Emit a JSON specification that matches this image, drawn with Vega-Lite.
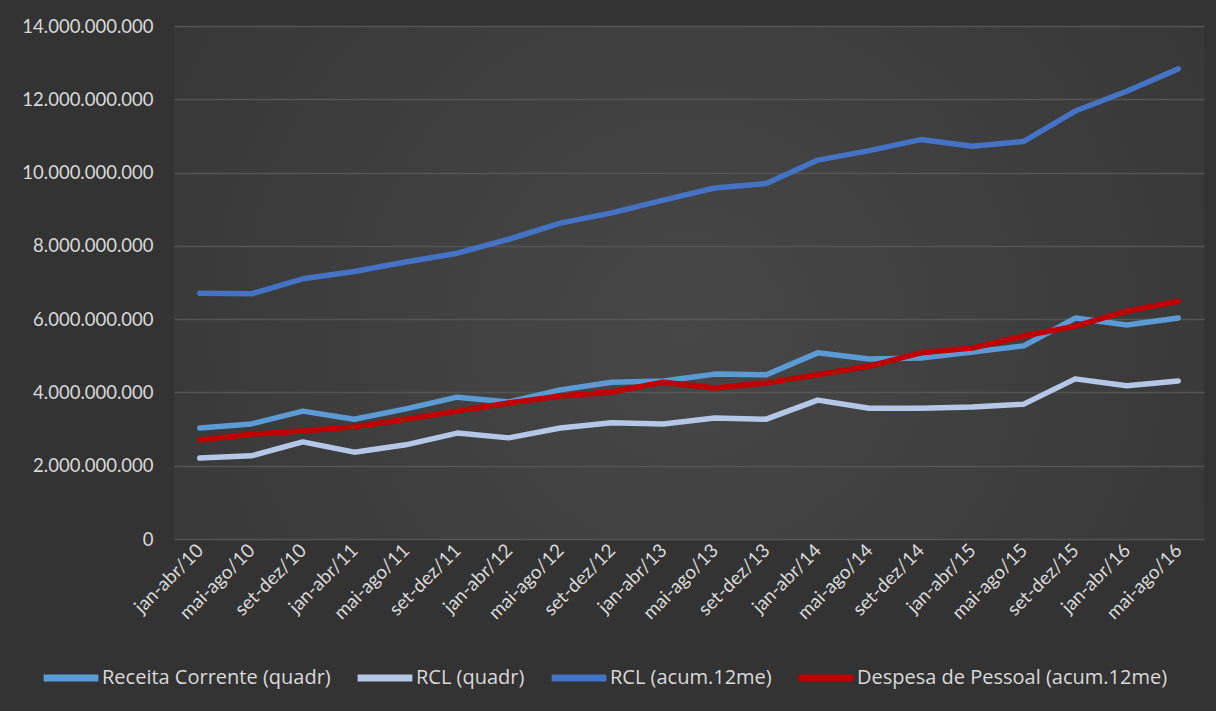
{
  "$schema": "https://vega.github.io/schema/vega-lite/v6.json",
  "width": 1030,
  "height": 513,
  "autosize": {"type": "none"},
  "padding": {"left": 174, "top": 26, "right": 12, "bottom": 172},
  "background": "#333333",
  "config": {
    "view": {
      "stroke": null,
      "fill": {"gradient": "radial", "x1": 0.5, "y1": 0.55, "r1": 0, "x2": 0.5, "y2": 0.55, "r2": 0.75,
        "stops": [{"offset": 0, "color": "#474747"}, {"offset": 1, "color": "#333333"}]}
    },
    "locale": {"number": {"decimal": ",", "thousands": ".", "grouping": [3], "currency": ["R$", ""]}},
    "font": "Lato"
  },
  "data": {
    "values": [
      {"periodo": "jan-abr/10", "serie": "Receita Corrente (quadr)", "valor": 3030000000},
      {"periodo": "mai-ago/10", "serie": "Receita Corrente (quadr)", "valor": 3140000000},
      {"periodo": "set-dez/10", "serie": "Receita Corrente (quadr)", "valor": 3490000000},
      {"periodo": "jan-abr/11", "serie": "Receita Corrente (quadr)", "valor": 3270000000},
      {"periodo": "mai-ago/11", "serie": "Receita Corrente (quadr)", "valor": 3550000000},
      {"periodo": "set-dez/11", "serie": "Receita Corrente (quadr)", "valor": 3870000000},
      {"periodo": "jan-abr/12", "serie": "Receita Corrente (quadr)", "valor": 3740000000},
      {"periodo": "mai-ago/12", "serie": "Receita Corrente (quadr)", "valor": 4070000000},
      {"periodo": "set-dez/12", "serie": "Receita Corrente (quadr)", "valor": 4280000000},
      {"periodo": "jan-abr/13", "serie": "Receita Corrente (quadr)", "valor": 4310000000},
      {"periodo": "mai-ago/13", "serie": "Receita Corrente (quadr)", "valor": 4500000000},
      {"periodo": "set-dez/13", "serie": "Receita Corrente (quadr)", "valor": 4480000000},
      {"periodo": "jan-abr/14", "serie": "Receita Corrente (quadr)", "valor": 5080000000},
      {"periodo": "mai-ago/14", "serie": "Receita Corrente (quadr)", "valor": 4910000000},
      {"periodo": "set-dez/14", "serie": "Receita Corrente (quadr)", "valor": 4940000000},
      {"periodo": "jan-abr/15", "serie": "Receita Corrente (quadr)", "valor": 5100000000},
      {"periodo": "mai-ago/15", "serie": "Receita Corrente (quadr)", "valor": 5270000000},
      {"periodo": "set-dez/15", "serie": "Receita Corrente (quadr)", "valor": 6030000000},
      {"periodo": "jan-abr/16", "serie": "Receita Corrente (quadr)", "valor": 5840000000},
      {"periodo": "mai-ago/16", "serie": "Receita Corrente (quadr)", "valor": 6030000000},
      {"periodo": "jan-abr/10", "serie": "RCL (quadr)", "valor": 2210000000},
      {"periodo": "mai-ago/10", "serie": "RCL (quadr)", "valor": 2270000000},
      {"periodo": "set-dez/10", "serie": "RCL (quadr)", "valor": 2650000000},
      {"periodo": "jan-abr/11", "serie": "RCL (quadr)", "valor": 2370000000},
      {"periodo": "mai-ago/11", "serie": "RCL (quadr)", "valor": 2570000000},
      {"periodo": "set-dez/11", "serie": "RCL (quadr)", "valor": 2890000000},
      {"periodo": "jan-abr/12", "serie": "RCL (quadr)", "valor": 2760000000},
      {"periodo": "mai-ago/12", "serie": "RCL (quadr)", "valor": 3030000000},
      {"periodo": "set-dez/12", "serie": "RCL (quadr)", "valor": 3170000000},
      {"periodo": "jan-abr/13", "serie": "RCL (quadr)", "valor": 3140000000},
      {"periodo": "mai-ago/13", "serie": "RCL (quadr)", "valor": 3300000000},
      {"periodo": "set-dez/13", "serie": "RCL (quadr)", "valor": 3270000000},
      {"periodo": "jan-abr/14", "serie": "RCL (quadr)", "valor": 3790000000},
      {"periodo": "mai-ago/14", "serie": "RCL (quadr)", "valor": 3570000000},
      {"periodo": "set-dez/14", "serie": "RCL (quadr)", "valor": 3570000000},
      {"periodo": "jan-abr/15", "serie": "RCL (quadr)", "valor": 3600000000},
      {"periodo": "mai-ago/15", "serie": "RCL (quadr)", "valor": 3680000000},
      {"periodo": "set-dez/15", "serie": "RCL (quadr)", "valor": 4370000000},
      {"periodo": "jan-abr/16", "serie": "RCL (quadr)", "valor": 4180000000},
      {"periodo": "mai-ago/16", "serie": "RCL (quadr)", "valor": 4310000000},
      {"periodo": "jan-abr/10", "serie": "RCL (acum.12me)", "valor": 6710000000},
      {"periodo": "mai-ago/10", "serie": "RCL (acum.12me)", "valor": 6690000000},
      {"periodo": "set-dez/10", "serie": "RCL (acum.12me)", "valor": 7100000000},
      {"periodo": "jan-abr/11", "serie": "RCL (acum.12me)", "valor": 7300000000},
      {"periodo": "mai-ago/11", "serie": "RCL (acum.12me)", "valor": 7560000000},
      {"periodo": "set-dez/11", "serie": "RCL (acum.12me)", "valor": 7800000000},
      {"periodo": "jan-abr/12", "serie": "RCL (acum.12me)", "valor": 8180000000},
      {"periodo": "mai-ago/12", "serie": "RCL (acum.12me)", "valor": 8620000000},
      {"periodo": "set-dez/12", "serie": "RCL (acum.12me)", "valor": 8900000000},
      {"periodo": "jan-abr/13", "serie": "RCL (acum.12me)", "valor": 9250000000},
      {"periodo": "mai-ago/13", "serie": "RCL (acum.12me)", "valor": 9580000000},
      {"periodo": "set-dez/13", "serie": "RCL (acum.12me)", "valor": 9700000000},
      {"periodo": "jan-abr/14", "serie": "RCL (acum.12me)", "valor": 10340000000},
      {"periodo": "mai-ago/14", "serie": "RCL (acum.12me)", "valor": 10600000000},
      {"periodo": "set-dez/14", "serie": "RCL (acum.12me)", "valor": 10900000000},
      {"periodo": "jan-abr/15", "serie": "RCL (acum.12me)", "valor": 10720000000},
      {"periodo": "mai-ago/15", "serie": "RCL (acum.12me)", "valor": 10850000000},
      {"periodo": "set-dez/15", "serie": "RCL (acum.12me)", "valor": 11680000000},
      {"periodo": "jan-abr/16", "serie": "RCL (acum.12me)", "valor": 12220000000},
      {"periodo": "mai-ago/16", "serie": "RCL (acum.12me)", "valor": 12830000000},
      {"periodo": "jan-abr/10", "serie": "Despesa de Pessoal (acum.12me)", "valor": 2700000000},
      {"periodo": "mai-ago/10", "serie": "Despesa de Pessoal (acum.12me)", "valor": 2860000000},
      {"periodo": "set-dez/10", "serie": "Despesa de Pessoal (acum.12me)", "valor": 2950000000},
      {"periodo": "jan-abr/11", "serie": "Despesa de Pessoal (acum.12me)", "valor": 3060000000},
      {"periodo": "mai-ago/11", "serie": "Despesa de Pessoal (acum.12me)", "valor": 3270000000},
      {"periodo": "set-dez/11", "serie": "Despesa de Pessoal (acum.12me)", "valor": 3490000000},
      {"periodo": "jan-abr/12", "serie": "Despesa de Pessoal (acum.12me)", "valor": 3710000000},
      {"periodo": "mai-ago/12", "serie": "Despesa de Pessoal (acum.12me)", "valor": 3900000000},
      {"periodo": "set-dez/12", "serie": "Despesa de Pessoal (acum.12me)", "valor": 4010000000},
      {"periodo": "jan-abr/13", "serie": "Despesa de Pessoal (acum.12me)", "valor": 4280000000},
      {"periodo": "mai-ago/13", "serie": "Despesa de Pessoal (acum.12me)", "valor": 4120000000},
      {"periodo": "set-dez/13", "serie": "Despesa de Pessoal (acum.12me)", "valor": 4260000000},
      {"periodo": "jan-abr/14", "serie": "Despesa de Pessoal (acum.12me)", "valor": 4480000000},
      {"periodo": "mai-ago/14", "serie": "Despesa de Pessoal (acum.12me)", "valor": 4720000000},
      {"periodo": "set-dez/14", "serie": "Despesa de Pessoal (acum.12me)", "valor": 5080000000},
      {"periodo": "jan-abr/15", "serie": "Despesa de Pessoal (acum.12me)", "valor": 5210000000},
      {"periodo": "mai-ago/15", "serie": "Despesa de Pessoal (acum.12me)", "valor": 5540000000},
      {"periodo": "set-dez/15", "serie": "Despesa de Pessoal (acum.12me)", "valor": 5810000000},
      {"periodo": "jan-abr/16", "serie": "Despesa de Pessoal (acum.12me)", "valor": 6220000000},
      {"periodo": "mai-ago/16", "serie": "Despesa de Pessoal (acum.12me)", "valor": 6490000000}
    ]
  },
  "mark": {"type": "line", "strokeWidth": 5.5, "strokeCap": "round", "strokeJoin": "round"},
  "encoding": {
    "x": {
      "field": "periodo",
      "type": "ordinal",
      "sort": null,
      "scale": {"type": "point", "padding": 0.5},
      "axis": {
        "title": null,
        "domain": false,
        "ticks": false,
        "labelAngle": -45,
        "labelAlign": "right",
        "labelBaseline": "middle",
        "labelPadding": 8,
        "labelColor": "#d9d9d9",
        "labelFontSize": 19,
        "labelFont": "Lato"
      }
    },
    "y": {
      "field": "valor",
      "type": "quantitative",
      "scale": {"domain": [0, 14000000000], "nice": false},
      "axis": {
        "title": null,
        "values": [0, 2000000000, 4000000000, 6000000000, 8000000000, 10000000000, 12000000000, 14000000000],
        "format": ",d",
        "domain": false,
        "ticks": false,
        "labelPadding": 21,
        "labelColor": "#d9d9d9",
        "labelFontSize": 18.5,
        "labelFont": "Lato",
        "gridColor": "#555555",
        "gridWidth": 1.3
      }
    },
    "color": {
      "field": "serie",
      "type": "nominal",
      "scale": {
        "domain": ["Receita Corrente (quadr)", "RCL (quadr)", "RCL (acum.12me)", "Despesa de Pessoal (acum.12me)"],
        "range": ["#5B9BD5", "#B4C7E7", "#4472C4", "#C00000"]
      },
      "legend": {
        "title": null,
        "orient": "none",
        "direction": "horizontal",
        "legendX": -134,
        "legendY": 621,
        "symbolType": "stroke",
        "symbolSize": 3000,
        "symbolStrokeWidth": 7,
        "labelColor": "#d9d9d9",
        "labelFontSize": 20,
        "labelFont": "Open Sans",
        "labelOffset": 0,
        "columnPadding": 12,
        "labelLimit": 400
      }
    }
  }
}
